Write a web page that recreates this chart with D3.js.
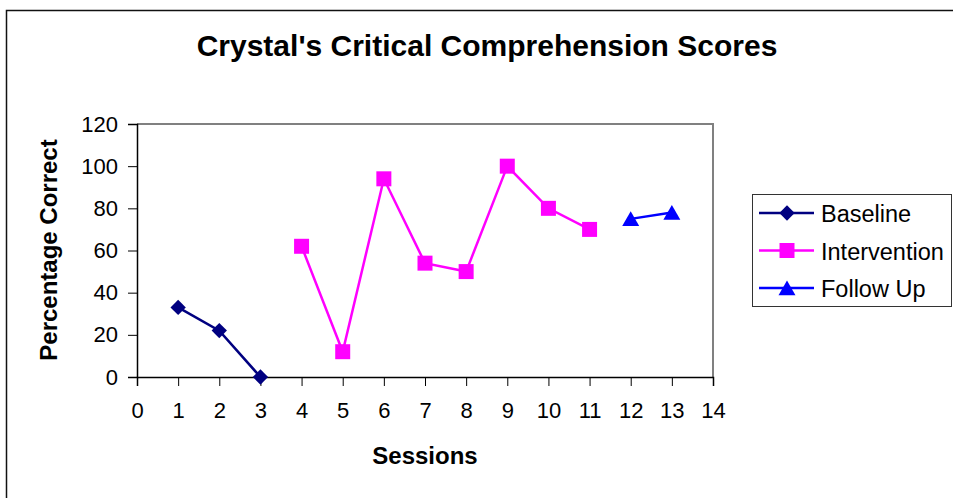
<!DOCTYPE html>
<html>
<head>
<meta charset="utf-8">
<script src="https://cdn.jsdelivr.net/npm/d3@7"></script>
<style>
  body { margin: 0; background: #fff; }
  text { font-family: "Liberation Sans", Arial, sans-serif; }
</style>
</head>
<body>
<svg width="953" height="498"></svg>
<script>
const width = 953, height = 498;

// session scores
const baselineSessions = [1, 2, 3];
const baselineScores = [33, 22, 0];
const interventionSessions = [4, 5, 6, 7, 8, 9, 10, 11];
const interventionScores = [62, 12, 94, 54, 50, 100, 80, 70];
const followUpSessions = [12, 13];
const followUpScores = [75, 78];

const xTicks = d3.range(0, 15);
const yTicks = [0, 20, 40, 60, 80, 100, 120];

const seriesList = [
  { name: "Baseline", xs: baselineSessions, ys: baselineScores, color: "#000080", shape: "diamond" },
  { name: "Intervention", xs: interventionSessions, ys: interventionScores, color: "#ff00ff", shape: "square" },
  { name: "Follow Up", xs: followUpSessions, ys: followUpScores, color: "#0000ff", shape: "triangle" }
];

let plot = { left: 137, top: 124, right: 713, bottom: 377 };

const svg = d3.select("svg");

// outer chart border
svg.append("rect")
  .attr("x", 6.5).attr("y", 10.5)
  .attr("width", 960).attr("height", 500)
  .attr("fill", "#fff").attr("stroke", "#111").attr("stroke-width", 1.5);

svg.append("text")
  .attr("x", 487).attr("y", 56)
  .attr("text-anchor", "middle")
  .attr("font-size", "30px").attr("font-weight", "bold")
  .text("Crystal's Critical Comprehension Scores");

const x = d3.scaleLinear().domain([0, 14]).range([plot.left, plot.right]);
const y = d3.scaleLinear().domain([0, 120]).range([plot.bottom, plot.top]);

// plot frame: top and right grey
svg.append("path")
  .attr("d", `M${plot.left},${plot.top}H${plot.right}V${plot.bottom}`)
  .attr("fill", "none").attr("stroke", "#808080").attr("stroke-width", 2);

const xAxis = svg.append("g")
  .attr("transform", `translate(0,${plot.bottom})`)
  .call(d3.axisBottom(x).tickValues(xTicks).tickSize(9).tickPadding(16).tickFormat(d3.format("d")));
const yAxis = svg.append("g")
  .attr("transform", `translate(${plot.left},0)`)
  .call(d3.axisLeft(y).tickValues(yTicks).tickSize(9).tickPadding(10));

[xAxis, yAxis].forEach(g => {
  g.select(".domain").attr("stroke", "#000").attr("stroke-width", 1.5);
  g.selectAll(".tick line").attr("stroke", "#000");
  g.selectAll(".tick text").attr("font-size", "22px").attr("fill", "#000")
    .attr("font-family", "'Liberation Sans', Arial, sans-serif");
});

svg.append("text")
  .attr("x", 425).attr("y", 464)
  .attr("text-anchor", "middle")
  .attr("font-size", "24px").attr("font-weight", "bold")
  .text("Sessions");

svg.append("text")
  .attr("transform", "translate(57,250) rotate(-90)")
  .attr("text-anchor", "middle")
  .attr("font-size", "24px").attr("font-weight", "bold")
  .text("Percentage Correct");

function symbolFor(shape) {
  if (shape === "diamond") return d3.symbol().type(d3.symbolDiamond2).size(150)();
  if (shape === "square") return d3.symbol().type(d3.symbolSquare).size(225)();
  return d3.symbol().type(d3.symbolTriangle).size(125)();
}
// nudge triangles so their box is centred on the point
function offsetFor(shape) {
  return shape === "triangle" ? 2.3 : 0;
}

seriesList.forEach(s => {
  const pts = s.xs.map((v, i) => [v, s.ys[i]]);
  svg.append("path")
    .datum(pts)
    .attr("fill", "none")
    .attr("stroke", s.color)
    .attr("stroke-width", 2.5)
    .attr("d", d3.line().x(d => x(d[0])).y(d => y(d[1])));

  svg.selectAll(null)
    .data(pts)
    .enter().append("path")
    .attr("transform", d => `translate(${x(d[0])},${y(d[1]) + offsetFor(s.shape)})`)
    .attr("d", symbolFor(s.shape))
    .attr("fill", s.color);
});

// legend
const legend = svg.append("g").attr("transform", "translate(752,194)");
legend.append("rect")
  .attr("x", 0.5).attr("y", 0.5).attr("width", 199).attr("height", 112)
  .attr("fill", "#fff").attr("stroke", "#333").attr("stroke-width", 1);

seriesList.forEach((s, i) => {
  const row = legend.append("g").attr("transform", `translate(0,${19 + i * 37.5})`);
  row.append("line")
    .attr("x1", 7).attr("x2", 62)
    .attr("stroke", s.color).attr("stroke-width", 2.5);
  row.append("path")
    .attr("transform", `translate(35,${offsetFor(s.shape)})`)
    .attr("d", symbolFor(s.shape))
    .attr("fill", s.color);
  row.append("text")
    .attr("x", 69).attr("y", 9)
    .attr("font-size", "23.5px")
    .text(s.name);
});
</script>
</body>
</html>
